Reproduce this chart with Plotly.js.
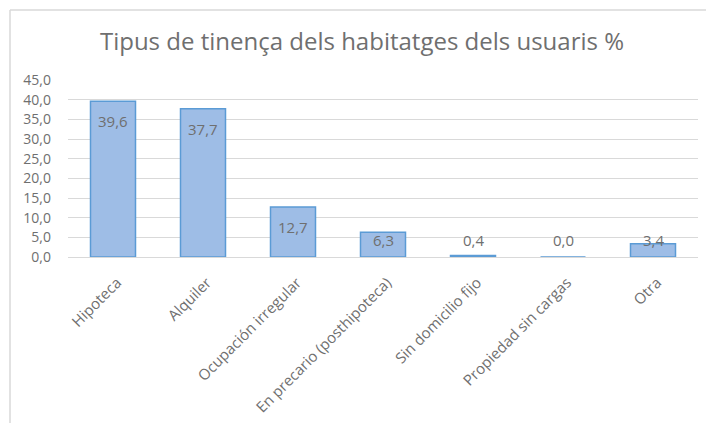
<!DOCTYPE html>
<html>
<head>
<meta charset="utf-8">
<script src="https://cdn.plot.ly/plotly-3.0.1.min.js"></script>
<style>
html,body{margin:0;padding:0;background:#fff;}
#chart{width:706px;height:423px;}
</style>
</head>
<body>
<div id="chart"></div>
<script>
const categories = ["Hipoteca", "Alquiler", "Ocupación irregular", "En precario (posthipoteca)", "Sin domicilio fijo", "Propiedad sin cargas", "Otra"];
const values = [39.6, 37.7, 12.7, 6.3, 0.4, 0.0, 3.4];
const titleText = "Tipus de tinença dels habitatges dels usuaris %";

const W = 706, H = 423;
const m = {l: 68, r: 8, t: 80, b: 166};
const yMax = 45;
const plotH = H - m.t - m.b;
const pxPerUnit = plotH / yMax;

const fontFam = "'Open Sans', sans-serif";
const lightGray = "#6f6f6f";

const labelFmt = v => v.toFixed(1).replace('.', ',');

const annotations = values.map((v, i) => ({
  x: categories[i],
  y: Math.max(v - 20 / pxPerUnit, 17 / pxPerUnit),
  xref: 'x', yref: 'y',
  text: labelFmt(v),
  showarrow: false,
  yanchor: 'middle',
  font: {family: fontFam, size: 15, color: lightGray}
}));

const pw = W - m.l - m.r, ph = H - m.t - m.b;
const px = x => (x - m.l) / pw;
const py = y => (H - m.b - y) / ph;
const shapes = [
  {type: 'line', xref: 'paper', yref: 'paper', x0: px(10), x1: px(10), y0: py(10), y1: py(H + 5), line: {color: '#d9d9d9', width: 1.5}},
  {type: 'line', xref: 'paper', yref: 'paper', x0: px(10), x1: px(W + 5), y0: py(10), y1: py(10), line: {color: '#d9d9d9', width: 1.5}}
];

const trace = {
  type: 'bar',
  x: categories,
  y: values,
  marker: {color: '#9ebde6', line: {color: '#5b9bd5', width: 1.5}},
  width: 0.5,
  hoverinfo: 'x+y'
};

const layout = {
  width: W, height: H,
  margin: m,
  paper_bgcolor: '#fff', plot_bgcolor: '#fff',
  separators: ',.',
  showlegend: false,
  title: {text: titleText, x: 362 / W, xanchor: 'center', y: 1 - 42 / H, yanchor: 'middle',
          font: {family: fontFam, size: 24, color: lightGray}},
  xaxis: {
    type: 'category',
    tickangle: -45,
    tickfont: {family: fontFam, size: 15, color: lightGray},
    showline: true, linecolor: '#d9d9d9', linewidth: 1,
    showgrid: false, ticks: '', automargin: false,
    ticklabelstandoff: 10, ticklabelshift: 4
  },
  yaxis: {
    range: [0, yMax], dtick: 5, tick0: 0,
    tickformat: '.1f',
    tickfont: {family: fontFam, size: 14, color: lightGray},
    showgrid: true, gridcolor: '#d9d9d9', gridwidth: 1,
    zeroline: false, showline: false, ticks: '',
    ticklabelstandoff: 16, automargin: false
  },
  annotations: annotations,
  shapes: shapes
};

Plotly.newPlot('chart', [trace], layout, {displayModeBar: false, staticPlot: true});
</script>
</body>
</html>
